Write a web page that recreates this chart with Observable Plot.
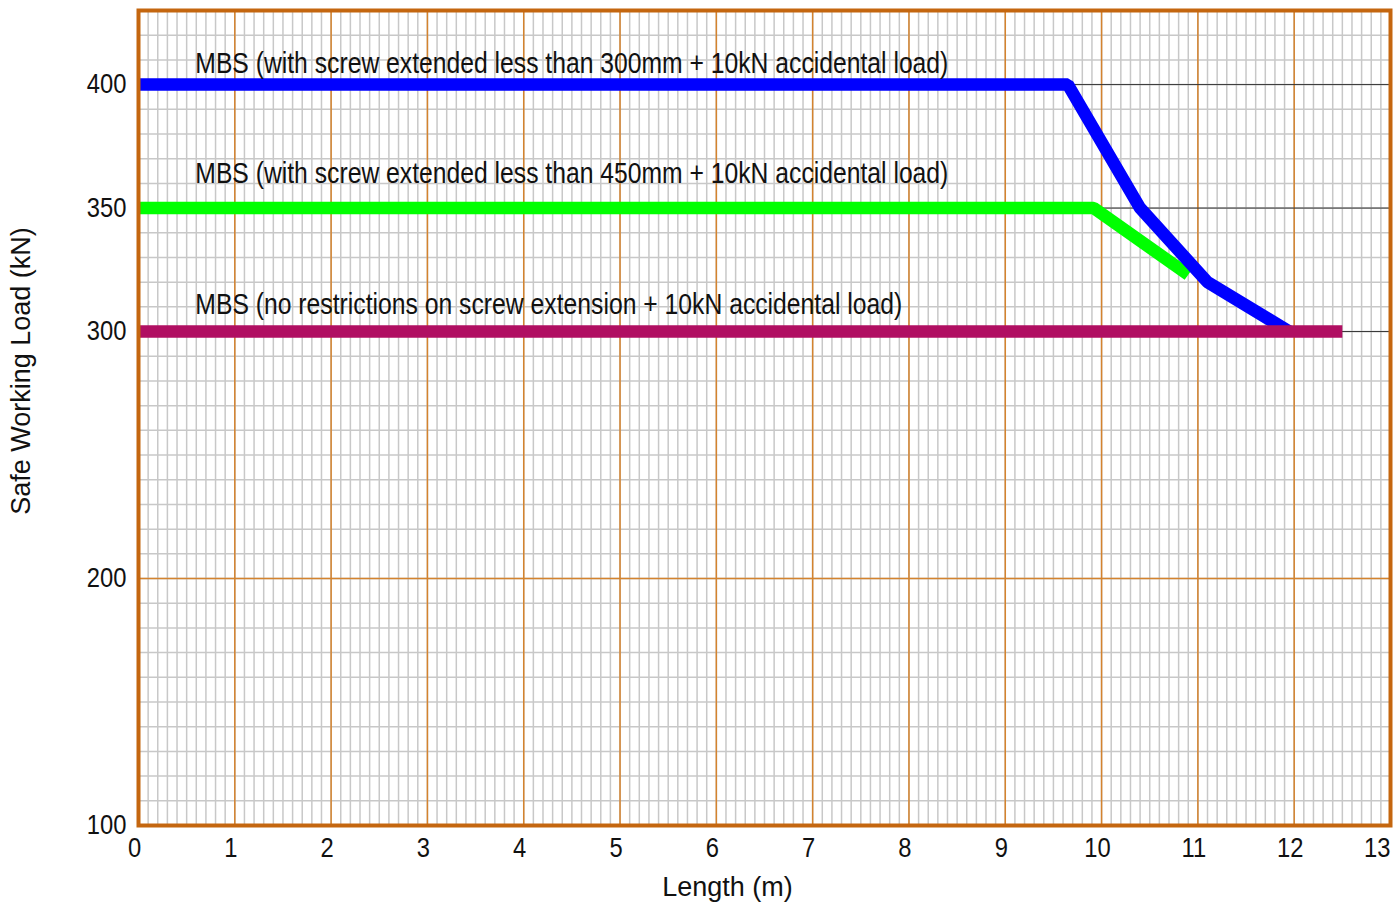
<!DOCTYPE html>
<html><head><meta charset="utf-8">
<script src="https://cdn.jsdelivr.net/npm/d3@7"></script>
<script src="https://cdn.jsdelivr.net/npm/@observablehq/plot@0.6"></script>
<style>
body{margin:0;background:#fff;}
svg{font-family:"Liberation Sans",Arial,sans-serif;}
</style>
</head><body><div id="chart"></div>
<script>
// Series data (Length m, Safe Working Load kN)
const series300X = [0, 9.65, 10.4, 11.1, 11.95];
const series300Y = [400, 400, 350, 320, 300];
const series450X = [0, 9.92, 10.9];
const series450Y = [350, 350, 323];
const seriesFreeX = [0, 12.5];
const seriesFreeY = [300, 300];

const labelTexts = [
  "MBS (with screw extended less than 300mm + 10kN accidental load)",
  "MBS (with screw extended less than 450mm + 10kN accidental load)",
  "MBS (no restrictions on screw extension + 10kN accidental load)"
];
const labelX = [0.59, 0.59, 0.59];
const labelY = [408.5, 364, 311];

const xTicks = [0,1,2,3,4,5,6,7,8,9,10,11,12,13];
const yTicks = [100, 200, 300, 350, 400];
const refLines = [300, 350, 400];
const majorYLines = [200];
const minorXTicks = d3.range(0, 131).map(i => i / 10);
const minorYTicks = d3.range(100, 431, 10);

const toRows = (xs, ys) => xs.map((x, i) => ({x, y: ys[i]}));
const labels = labelTexts.map((t, i) => ({t, x: labelX[i], y: labelY[i]}));

const ORANGE = "#C4660F";
const lineOpts = {x: "x", y: "y", strokeWidth: 12.5, strokeLinecap: "butt", strokeLinejoin: "miter"};

const chart = Plot.plot({
  width: 1398,
  height: 909,
  marginLeft: 138,
  marginRight: 8,
  marginTop: 10,
  marginBottom: 84,
  style: {fontFamily: "'Liberation Sans', Arial, sans-serif", background: "#fff"},
  x: {domain: [0, 13]},
  y: {domain: [100, 430]},
  marks: [
    Plot.ruleX(minorXTicks, {stroke: "#c8c8c8", strokeWidth: 1.5}),
    Plot.ruleY(minorYTicks, {stroke: "#c8c8c8", strokeWidth: 1.5}),
    Plot.ruleX(xTicks, {stroke: "#D4832E", strokeWidth: 1.5}),
    Plot.ruleY(majorYLines, {stroke: "#D4832E", strokeWidth: 1.5}),
    Plot.ruleY(refLines, {stroke: "#333", strokeWidth: 1}),
    Plot.line(toRows(series450X, series450Y), {...lineOpts, stroke: "#00FF00"}),
    Plot.line(toRows(series300X, series300Y), {...lineOpts, stroke: "#0000FF"}),
    Plot.line(toRows(seriesFreeX, seriesFreeY), {...lineOpts, stroke: "#B00F62"}),
    Plot.text(labels, {x: "x", y: "y", text: "t", textAnchor: "start", fontSize: 29, fill: "#111", className: "mbs-label"}),
    Plot.frame({stroke: ORANGE, strokeWidth: 4}),
    Plot.axisX(xTicks, {tickSize: 0, tickPadding: 12, fontSize: 27, dx: -4, label: "Length (m)", labelAnchor: "center", labelOffset: 70, labelArrow: "none", color: "#111"}),
    Plot.axisY(yTicks, {tickSize: 0, tickPadding: 12, fontSize: 27, label: "Safe Working Load (kN)", labelAnchor: "center", labelOffset: 128, labelArrow: "none", color: "#111"})
  ]
});
document.getElementById("chart").appendChild(chart);

// Condense label text horizontally like the original
const targetWidths = [753, 753, 707];
d3.select(chart).selectAll(".mbs-label text").each(function(d, i) {
  if (i < targetWidths.length) {
    this.setAttribute("textLength", targetWidths[i]);
    this.setAttribute("lengthAdjust", "spacingAndGlyphs");
  }
});
d3.select(chart).selectAll("g[aria-label='x-axis tick label'] text, g[aria-label='y-axis tick label'] text").each(function() {
  const w = this.getComputedTextLength();
  this.setAttribute("textLength", w * 0.88);
  this.setAttribute("lengthAdjust", "spacingAndGlyphs");
});
// Last x tick label sits inside the right edge
const xt = d3.select(chart).selectAll("g[aria-label='x-axis tick label'] text").nodes();
if (xt.length) {
  const last = xt[xt.length - 1];
  last.setAttribute("text-anchor", "end");
  last.setAttribute("dx", "4");
}
// Axis labels positioned like the original
d3.select(chart).selectAll("g[aria-label='x-axis label'] text").each(function() {
  this.setAttribute("dx", "-37");
});
d3.select(chart).selectAll("g[aria-label='y-axis label'] text").each(function() {
  this.setAttribute("dx", "47");
});
</script>
</body></html>
